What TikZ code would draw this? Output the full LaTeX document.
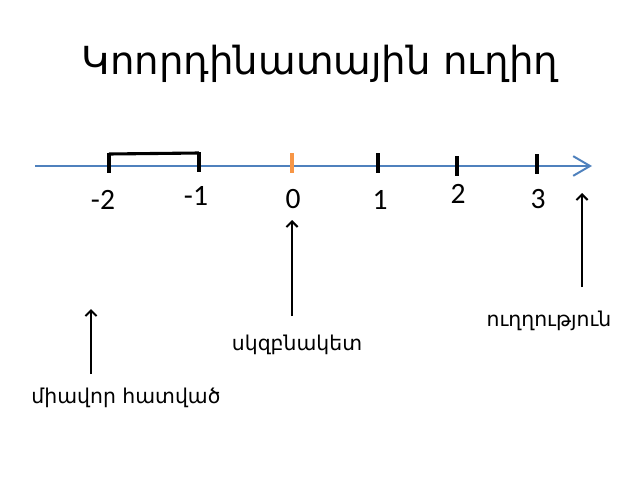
\documentclass[tikz,border=0pt]{standalone}
\usepackage{fontspec}
\usepackage{tikz}
\usetikzlibrary{arrows.meta}
\newfontfamily\armfont{DejaVu Sans}
\newfontfamily\numfont{Carlito}
\definecolor{axisblue}{RGB}{79,129,189}
\definecolor{zeroorange}{RGB}{247,150,70}

\begin{document}
\begin{tikzpicture}[x=0.025cm,y=-0.025cm,
    axisline/.style={axisblue,line width=1.4pt,-{Straight Barb[length=12pt,width=14pt]}},
    tickmark/.style={line width=2.8pt},
    unitbar/.style={line width=2.2pt},
    pointer/.style={line width=2pt,-{Straight Barb[length=4pt,width=8pt,line width=1.4pt]}},
    ticklabel/.style={font=\numfont\fontsize{21}{24}\selectfont},
    armlabel/.style={font=\armfont\fontsize{14.5}{17}\selectfont}]
    %
    \useasboundingbox (0,0) rectangle (640,480);
    %
    % Independent parameters
    \def\axisY{166}                                          % axis height
    \def\axisL{35}                                           % axis start
    \def\axisR{592}                                          % axis tip
    \def\tickH{10}                                           % half tick length
    %
    % title
    \node[font=\armfont\fontsize{27.5}{32}\selectfont] (title) at (320,64) {Կոորդինատային ուղիղ};
    %
    % draw axis
    \coordinate (axStart) at (\axisL,\axisY);
    \coordinate (axEnd) at (\axisR,\axisY);
    \draw[axisline] (axStart) -- (axEnd);
    %
    % ticks and labels
    \foreach
    [
        var=\k,
        var=\tx,
        var=\ty,
        var=\tcol,
        var=\tickLabel,
        var=\lx,
        var=\ly,
    ]
    in {m2/109/163/black/-2/103/200,m1/199/162/black/-1/196/196,
        z/292/163/zeroorange/0/293/199,p1/378/163/black/1/380/200,
        p2/457/166/black/2/458/194,p3/537/164/black/3/538/199}%
    {
     \coordinate (t\k) at (\tx,\ty);
     \coordinate (top\k) at (\tx,\ty-9);
     \draw[tickmark,\tcol] (\tx,\ty-\tickH) -- (\tx,\ty+\tickH);
     \node[ticklabel] (lbl\k) at (\lx,\ly) {\tickLabel};
    }
    %
    % unit segment
    \draw[unitbar] (topm2) -- (topm1);
    %
    % pointers with texts
    \node[armlabel] (txtDir) at (549,321) {ուղղություն};
    \node[armlabel] (txtOrigin) at (297,345) {սկզբնակետ};
    \node[armlabel] (txtUnit) at (126,398) {միավոր հատված};
    \coordinate (dirBase) at (582,287);
    \coordinate (dirTip) at (582,193);
    \coordinate (orgBase) at (292,316);
    \coordinate (orgTip) at (292,220);
    \coordinate (unitBase) at (91,374);
    \coordinate (unitTip) at (91,309);
    \draw[pointer] (dirBase) -- (dirTip);
    \draw[pointer] (orgBase) -- (orgTip);
    \draw[pointer] (unitBase) -- (unitTip);
\end{tikzpicture}
\end{document}
